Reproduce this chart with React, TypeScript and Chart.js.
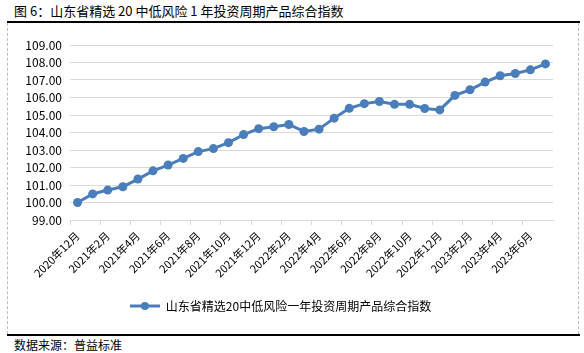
import React, { useEffect, useRef } from "react";
import { Chart, registerables } from "chart.js";

Chart.register(...registerables);

const categories: string[] = [
  "2020年12月", "2021年1月", "2021年2月", "2021年3月", "2021年4月", "2021年5月",
  "2021年6月", "2021年7月", "2021年8月", "2021年9月", "2021年10月", "2021年11月",
  "2021年12月", "2022年1月", "2022年2月", "2022年3月", "2022年4月", "2022年5月",
  "2022年6月", "2022年7月", "2022年8月", "2022年9月", "2022年10月", "2022年11月",
  "2022年12月", "2023年1月", "2023年2月", "2023年3月", "2023年4月", "2023年5月",
  "2023年6月", "2023年7月",
];

const indexValues: number[] = [
  100.0, 100.49, 100.71, 100.9, 101.34, 101.81, 102.14, 102.52,
  102.91, 103.08, 103.42, 103.88, 104.22, 104.33, 104.46, 104.06,
  104.19, 104.82, 105.38, 105.65, 105.77, 105.61, 105.61, 105.37,
  105.29, 106.12, 106.44, 106.88, 107.24, 107.37, 107.58, 107.92,
];

const seriesName = "山东省精选20中低风险一年投资周期产品综合指数";
const titleText = "图 6：山东省精选 20 中低风险 1 年投资周期产品综合指数";
const sourceText = "数据来源：普益标准";

const yMin = 99;
const yMax = 109;

const FONT = "'Noto Sans CJK SC', 'Noto Sans', sans-serif";
const BLUE = "#4a7ebb";
const GRID = "#d9d9d9";

function makeLegendMarker(): HTMLCanvasElement {
  const c = document.createElement("canvas");
  c.width = 30;
  c.height = 10;
  const ctx = c.getContext("2d")!;
  ctx.strokeStyle = BLUE;
  ctx.lineWidth = 3;
  ctx.beginPath();
  ctx.moveTo(0, 5);
  ctx.lineTo(30, 5);
  ctx.stroke();
  ctx.fillStyle = BLUE;
  ctx.beginPath();
  ctx.arc(15, 5, 4, 0, Math.PI * 2);
  ctx.fill();
  return c;
}

export default function App() {
  const ref = useRef<HTMLCanvasElement>(null);

  useEffect(() => {
    if (!ref.current) return;
    const marker = makeLegendMarker();
    const chart = new Chart(ref.current, {
      type: "line",
      data: {
        labels: categories,
        datasets: [
          {
            label: seriesName,
            data: indexValues,
            borderColor: BLUE,
            backgroundColor: BLUE,
            borderWidth: 3,
            pointRadius: 4.5,
            pointHoverRadius: 4.5,
            pointBackgroundColor: BLUE,
            pointBorderColor: BLUE,
            pointBorderWidth: 0,
            pointStyle: "circle",
            tension: 0,
          },
        ],
      },
      options: {
        animation: false,
        responsive: false,
        maintainAspectRatio: false,
        layout: { padding: { left: 0, right: 24, top: 22, bottom: 12 } },
        plugins: {
          title: { display: false },
          tooltip: { enabled: false },
          legend: {
            display: true,
            position: "bottom",
            labels: {
              usePointStyle: true,
              pointStyle: marker as any,
              pointStyleWidth: 30,
              boxHeight: 10,
              padding: 8,
              color: "#000",
              font: { family: FONT, size: 12 },
              generateLabels: (ch: any) =>
                ch.data.datasets.map((ds: any, i: number) => ({
                  text: ds.label,
                  fillStyle: BLUE,
                  strokeStyle: BLUE,
                  lineWidth: 0,
                  pointStyle: marker,
                  datasetIndex: i,
                  hidden: false,
                  fontColor: "#000",
                })),
            },
          },
        },
        scales: {
          x: {
            type: "category",
            offset: true,
            afterFit: (scale: any) => {
              scale.height = 72;
            },
            grid: {
              offset: true,
              drawOnChartArea: false,
              drawTicks: true,
              tickLength: 5,
              color: (ctx: any) => (ctx.index % 2 === 0 ? GRID : "rgba(0,0,0,0)"),
            },
            border: { display: true, color: GRID, width: 1 },
            ticks: {
              autoSkip: false,
              maxRotation: 45,
              minRotation: 45,
              padding: 4,
              color: "#000",
              font: { family: FONT, size: 11 },
              callback: (_v: any, i: number) => (i % 2 === 0 ? categories[i] : ""),
            },
          },
          y: {
            min: yMin,
            max: yMax,
            afterFit: (scale: any) => {
              scale.width = 62;
            },
            border: { display: false },
            grid: { color: GRID, drawTicks: false, lineWidth: 1 },
            ticks: {
              stepSize: 1,
              padding: 8,
              color: "#000",
              font: { family: FONT, size: 12 },
              callback: (v: any) => Number(v).toFixed(2),
            },
          },
        },
      },
    });
    return () => chart.destroy();
  }, []);

  return (
    <div
      style={{
        position: "absolute",
        left: 0,
        top: 0,
        width: 584,
        height: 353,
        background: "#fff",
        fontFamily: FONT,
        color: "#000",
      }}
    >
      <div style={{ position: "absolute", left: 14, top: 2, fontSize: 13, lineHeight: "18px", whiteSpace: "nowrap" }}>
        {titleText}
      </div>
      <div style={{ position: "absolute", left: 7, top: 21, width: 573, height: 0, borderTop: "2px solid #000" }} />
      <div
        style={{
          position: "absolute",
          left: 7,
          top: 23,
          width: 570,
          height: 311,
          borderLeft: "1px dashed #bdbdbd",
          borderRight: "1px dashed #bdbdbd",
        }}
      />
      <canvas
        ref={ref}
        width={569}
        height={311}
        style={{ position: "absolute", left: 8, top: 23, width: 569, height: 311 }}
      />
      <div style={{ position: "absolute", left: 7, top: 334, width: 573, height: 0, borderTop: "2px solid #000" }} />
      <div style={{ position: "absolute", left: 14, top: 337, fontSize: 12, lineHeight: "16px", whiteSpace: "nowrap" }}>
        {sourceText}
      </div>
    </div>
  );
}
